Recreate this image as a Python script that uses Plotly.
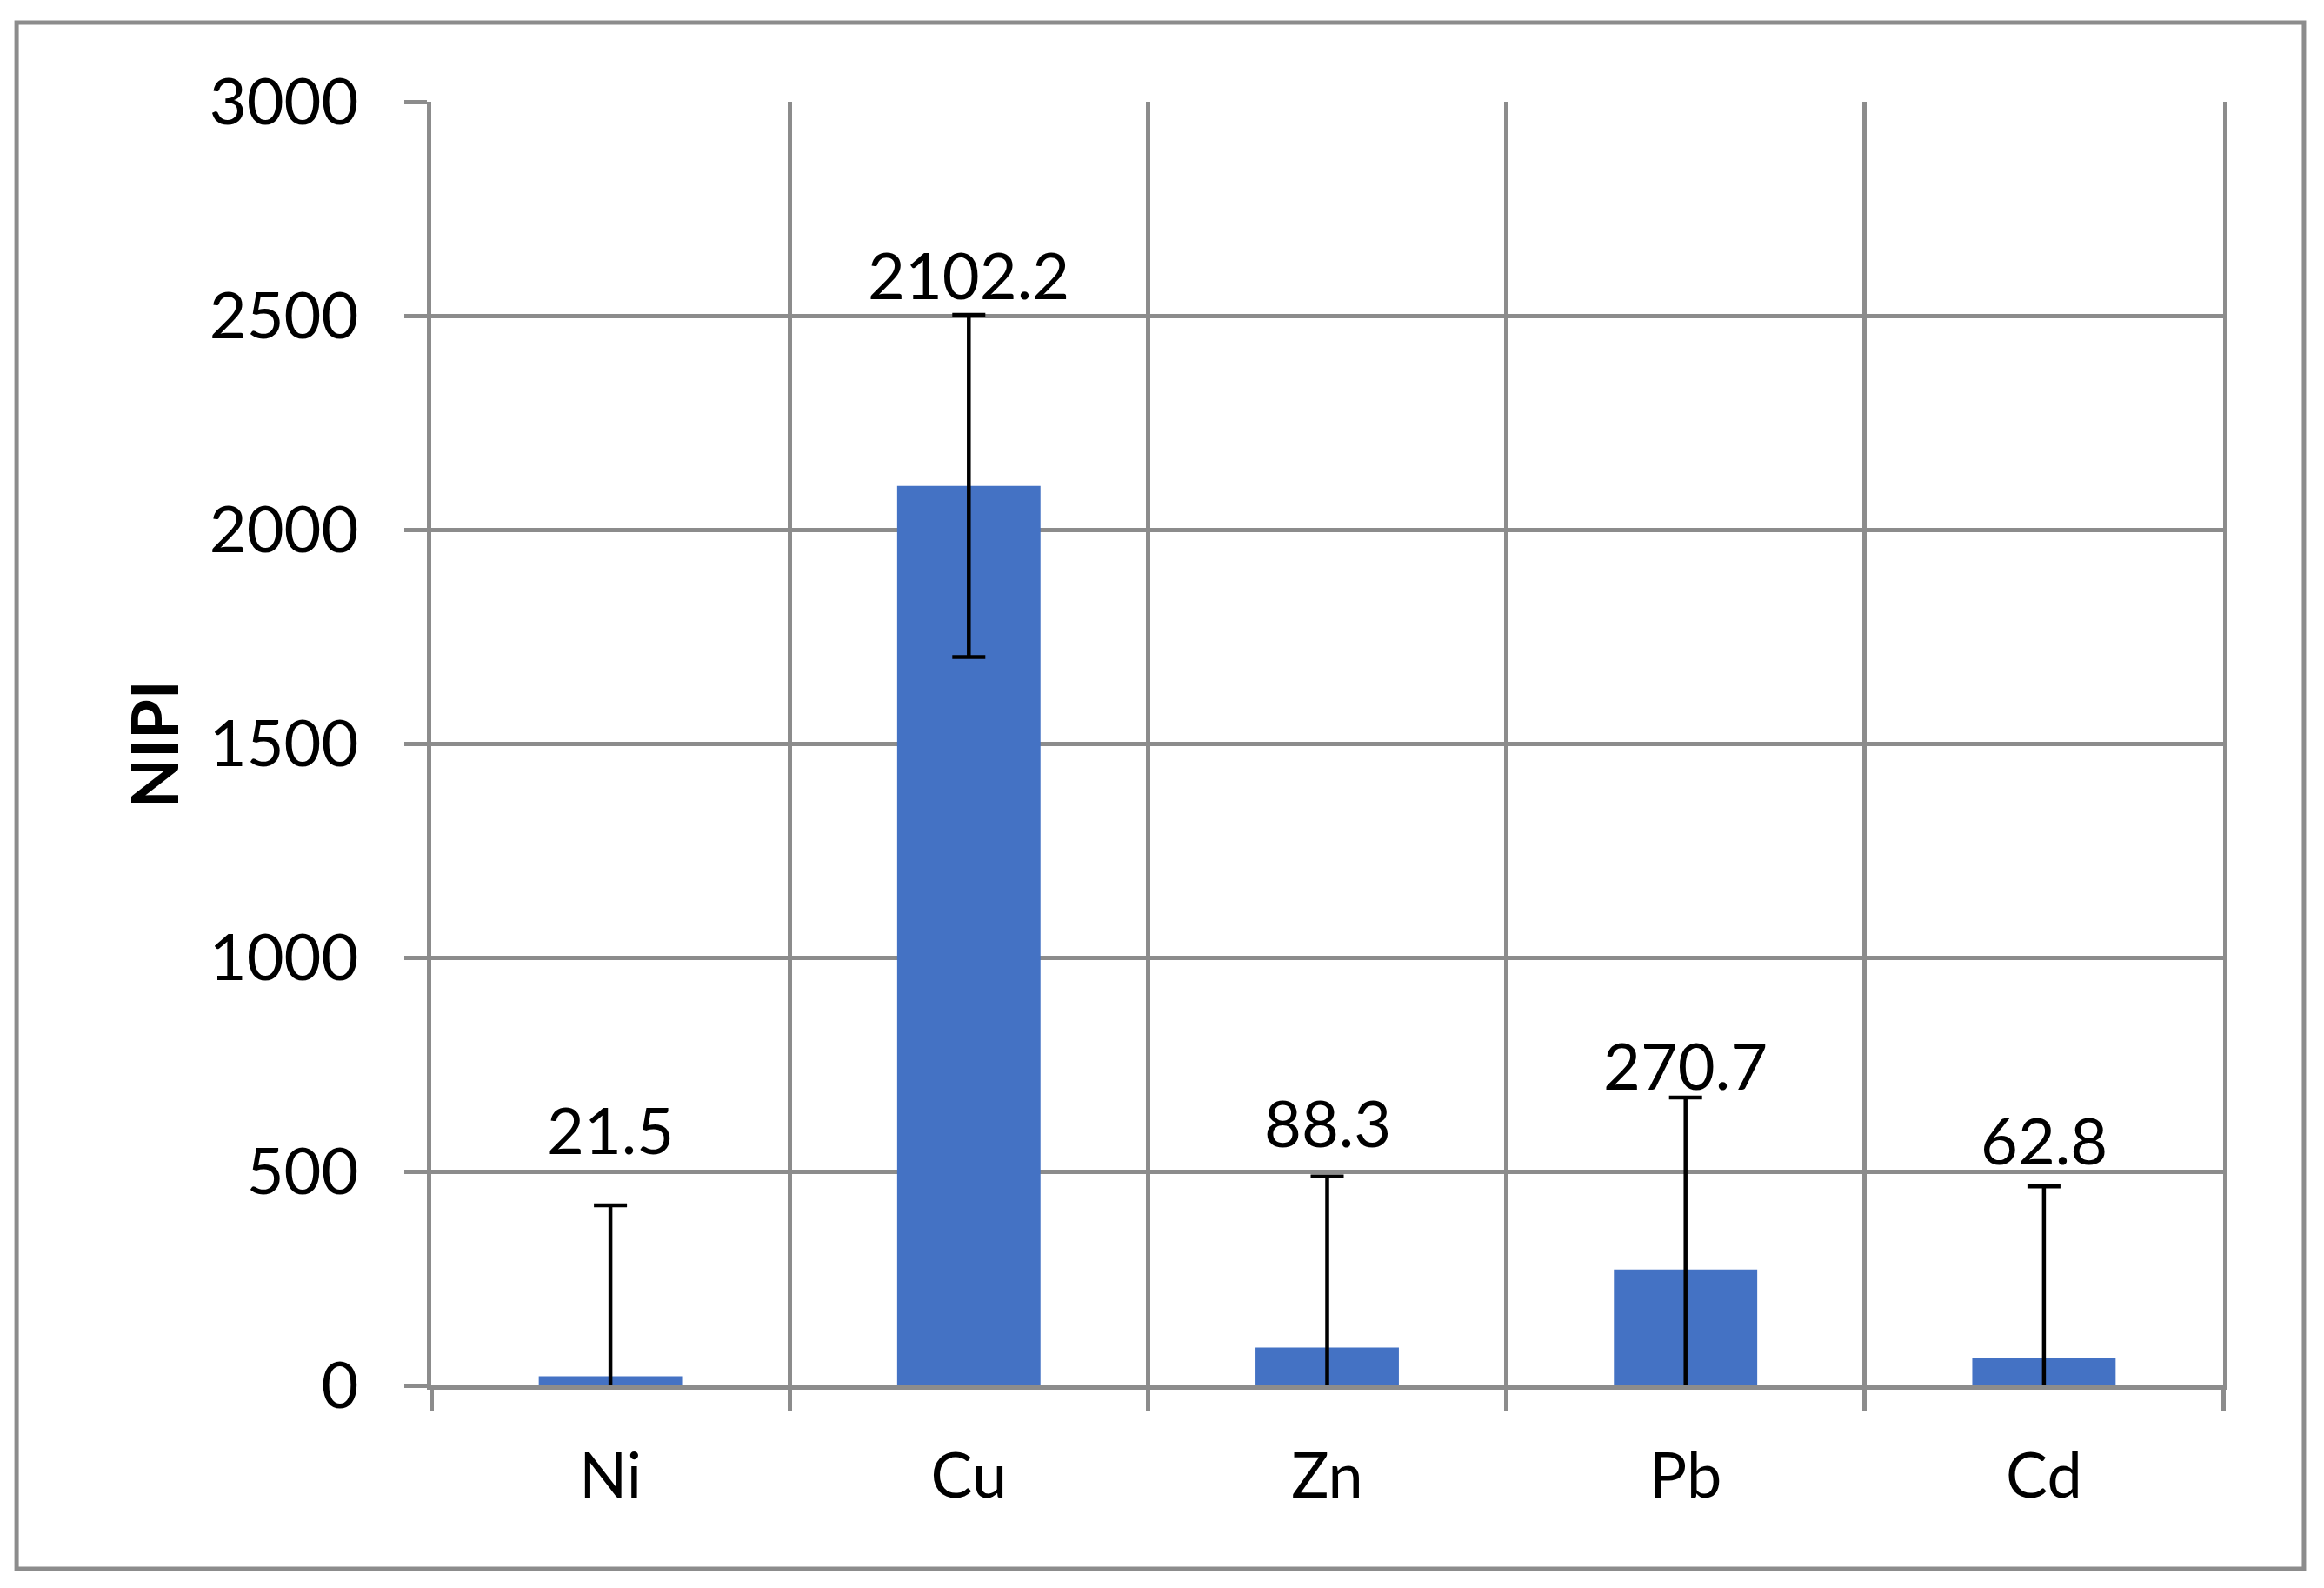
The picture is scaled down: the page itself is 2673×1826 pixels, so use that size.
import plotly.graph_objects as go

# Data
metals = ["Ni", "Cu", "Zn", "Pb", "Cd"]
nipi = [21.5, 2102.2, 88.3, 270.7, 62.8]
nipi_err = [399, 400, 400, 402, 402]
y_ticks = [0, 500, 1000, 1500, 2000, 2500, 3000]

# where the value labels sit (hand placed in the original)
label_y = [599, 2597, 614, 750, 575]

GRID = "#8c8c8c"
FONT = "Lato"

fig = go.Figure(go.Bar(
    x=metals,
    y=nipi,
    marker=dict(color="#4472C4", line=dict(width=0)),
    error_y=dict(type="data", array=nipi_err, color="black", thickness=4.5, width=19),
    width=0.4,
))

for m, v, ly in zip(metals, nipi, label_y):
    fig.add_annotation(x=m, y=ly, text=f"{v:.1f}", showarrow=False,
                       font=dict(family=FONT, size=74, color="black"),
                       xanchor="center", yanchor="middle")

# y axis title, placed like the original
fig.add_annotation(xref="paper", yref="paper", x=-0.1553, y=0.5, text="<b>NIPI</b>",
                   textangle=-90, showarrow=False, xanchor="center", yanchor="middle",
                   font=dict(family=FONT, size=74, color="black"))

# outer chart frame
fig.add_shape(type="rect", xref="paper", yref="paper",
              x0=-0.2314, x1=1.0451, y0=-0.1430, y1=1.0617,
              line=dict(color=GRID, width=5), layer="below")

fig.update_layout(
    width=2673, height=1826,
    margin=dict(l=488, r=124, t=109, b=241),
    paper_bgcolor="white", plot_bgcolor="white",
    showlegend=False,
    font=dict(family=FONT, size=74, color="black"),
)

fig.update_xaxes(
    type="category", tickson="boundaries",
    showgrid=True, gridcolor=GRID, gridwidth=4.5,
    ticks="outside", ticklen=24, tickwidth=4.5, tickcolor=GRID,
    showline=True, linecolor=GRID, linewidth=4.5,
    tickfont=dict(family=FONT, size=72, color="black"),
    ticklabelstandoff=38,
)

fig.update_yaxes(
    range=[0, 3000], tickvals=y_ticks,
    showgrid=True, gridcolor=GRID, gridwidth=4.5,
    ticks="outside", ticklen=26, tickwidth=4.5, tickcolor=GRID,
    showline=True, mirror=True, linecolor=GRID, linewidth=4.5,
    zeroline=False,
    tickfont=dict(family=FONT, size=74, color="black"),
    ticklabelstandoff=38,
)

fig.write_html("out.html")
